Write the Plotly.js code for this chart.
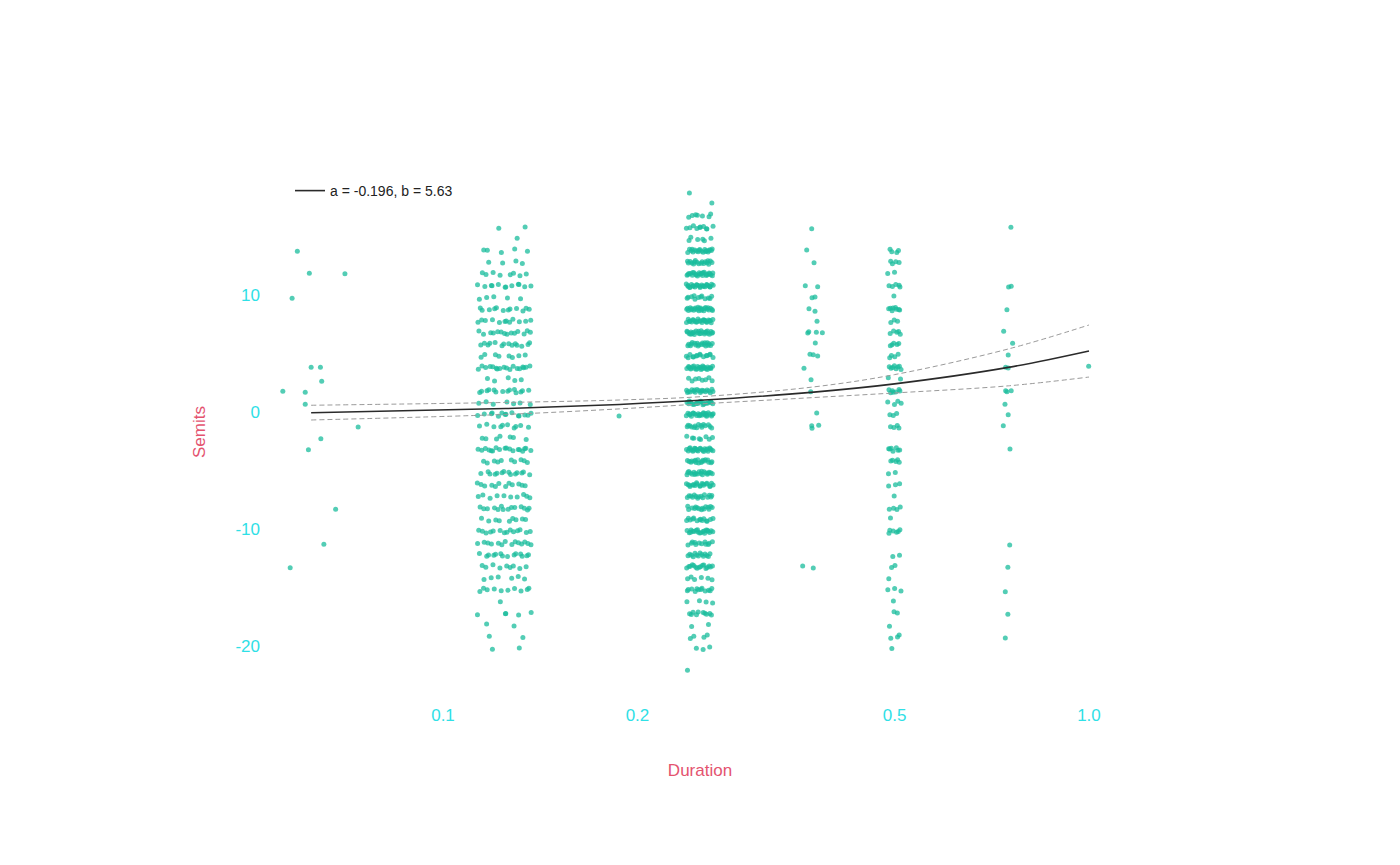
<!DOCTYPE html>
<html>
<head>
<meta charset="utf-8">
<script src="https://cdn.plot.ly/plotly-3.0.1.min.js"></script>
<style>html,body{margin:0;padding:0;background:#fff;}#chart{width:1400px;height:865px;}</style>
</head>
<body>
<div id="chart"></div>
<script>
// ---------- data ----------
// Dense columns: duration -> semitone rows with number of notes in each row
const col125Semits = [16,15,14,13,12,11,10,9,8,7,6,5,4,3,2,1,0,-1,-2,-3,-4,-5,-6,-7,-8,-9,-10,-11,-12,-13,-14,-15,-16,-17,-18,-19,-20];
const col125Counts = [2,1,5,4,8,12,5,12,12,14,14,8,18,5,14,7,14,10,7,18,10,14,12,10,14,9,14,14,14,9,6,10,1,5,2,2,2];

const col25Semits = [19,18,17,16,15,14,13,12,11,10,9,8,7,6,5,4,3,2,1,0,-1,-2,-3,-4,-5,-6,-7,-8,-9,-10,-11,-12,-13,-14,-15,-16,-17,-18,-19,-20,-22];
const col25Counts = [1,1,7,10,6,20,18,25,25,12,25,25,25,20,15,25,8,20,20,25,15,8,25,18,20,20,15,15,14,20,12,14,16,6,12,4,10,2,4,3,1];

const col5Semits = [14,13,12,11,10,9,8,7,6,5,4,3,2,1,0,-1,-3,-4,-5,-6,-7,-8,-9,-10,-12,-13,-14,-15,-16,-17,-18,-19,-20];
const col5Counts = [4,4,2,5,1,8,3,5,5,4,8,2,7,4,3,4,7,5,2,3,1,4,1,6,2,2,1,3,1,2,1,3,1];

// Sparse points read individually (jittered duration, semitones)
const sparseDur = [
  0.0595,0.0621,0.0705,0.0584,0.0625,0.0646,0.0649,0.0565,0.0612,0.0612,0.0739,0.0647,0.0619,0.0520,0.0682,0.0654,0.0580,
  0.1873,
  0.3722,0.3656,0.3753,0.3638,0.3802,0.3726,0.3766,0.3686,0.3766,0.3793,0.3670,0.3683,0.3784,0.3866,0.3770,0.3699,0.3743,0.3802,0.3621,0.3713,0.3709,0.3789,0.3722,0.3726,0.3816,0.3604,0.3743,
  0.7571,0.7509,0.7579,0.7464,0.7378,0.7617,0.7498,0.7430,0.7498,0.7430,0.7464,0.7579,0.7413,0.7498,0.7368,0.7546,0.7538,0.7489,0.7421,0.7489,0.7421,
  0.9989
];
const sparseSemits = [
  13.95,12.07,12.03,9.93,4.03,4.03,2.84,1.98,1.90,0.87,-1.07,-2.07,-3.01,-6.05,-8.10,-11.09,-13.09,
  -0.13,
  15.88,14.06,12.97,11.01,10.92,9.98,10.04,9.04,8.82,7.97,6.97,7.08,7.03,6.99,6.11,5.15,5.11,5.00,3.95,2.97,1.95,0.13,-0.96,-1.18,-0.92,-12.95,-13.12,
  16.00,10.90,10.96,8.96,7.11,6.09,5.09,4.03,3.97,2.03,1.95,2.03,0.87,-0.02,-0.96,-2.95,-11.15,-13.06,-15.15,-17.08,-19.10,
  4.12
];

// Fitted model and its confidence band
const fitLabel = 'a = -0.196, b = 5.63';
const fitDur   = [0.0625, 0.125, 0.1875, 0.25, 0.375, 0.5, 0.75, 1.0];
const fitVal   = [0.156, 0.508, 0.860, 1.212, 1.915, 2.619, 4.027, 5.434];
const bandHigh = [0.79, 1.03, 1.24, 1.52, 2.36, 3.41, 5.60, 7.65];
const bandLow  = [-0.47, 0.01, 0.48, 0.90, 1.45, 1.84, 2.45, 3.20];

const xTickVals = [0.1, 0.2, 0.5, 1.0];
const xTickText = ['0.1', '0.2', '0.5', '1.0'];
const yTickVals = [-20, -10, 0, 10];
const yTickText = ['-20', '-10', '0', '10'];

// ---------- jitter (display only, like a jitter geometry; Halton pattern) ----------
const JX = 0.012, JY = 0.16;
function halton(i, base){
  let f = 1, r = 0;
  while (i > 0){ f /= base; r += f * (i % base); i = Math.floor(i / base); }
  return r;
}
function expandColumn(dur, semits, counts, seed){
  const xs = [], ys = [];
  semits.forEach((s, r) => {
    const start = seed + r * 23;
    for (let k = 0; k < counts[r]; k++){
      const u = halton(start + k + 1, 2);
      const v = halton(start + k + 1, 3);
      xs.push(dur + (2*u - 1) * JX);
      ys.push(s + (2*v - 1) * JY);
    }
  });
  return {xs, ys};
}
const c1 = expandColumn(0.125, col125Semits, col125Counts, 5);
const c2 = expandColumn(0.25, col25Semits, col25Counts, 311);
const c3 = expandColumn(0.5, col5Semits, col5Counts, 977);

const ptX = [].concat(sparseDur, c1.xs, c2.xs, c3.xs);
const ptY = [].concat(sparseSemits, c1.ys, c2.ys, c3.ys);

const tickColor = '#2fe0e6';
const titleColor = '#e4536f';
const FONT = '"Liberation Sans", Arial, Helvetica, sans-serif';

const traces = [
  {
    type: 'scatter', mode: 'markers', x: ptX, y: ptY, showlegend: false,
    cliponaxis: false, hoverinfo: 'x+y',
    marker: {color: '#1abc9c', opacity: 0.75, size: 5, line: {width: 0}}
  },
  {
    type: 'scatter', mode: 'lines', x: fitDur, y: bandHigh, showlegend: false,
    line: {color: '#9a9a9a', width: 1, dash: '5px,3px', shape: 'spline', smoothing: 1}
  },
  {
    type: 'scatter', mode: 'lines', x: fitDur, y: bandLow, showlegend: false,
    line: {color: '#9a9a9a', width: 1, dash: '5px,3px', shape: 'spline', smoothing: 1}
  },
  {
    type: 'scatter', mode: 'lines', x: fitDur, y: fitVal, name: fitLabel,
    line: {color: '#2a2a2a', width: 1.6, shape: 'spline', smoothing: 1}
  }
];

const L = 266, R = 266, T = 161, B = 162;
const plotW = 1400 - L - R, plotH = 865 - T - B;

const layout = {
  width: 1400, height: 865,
  margin: {l: L, r: R, t: T, b: B, pad: 0},
  paper_bgcolor: '#ffffff', plot_bgcolor: '#ffffff',
  font: {family: FONT, size: 17, color: tickColor},
  showlegend: true,
  legend: {
    x: (290 - L) / plotW, y: (865 - B - 191) / plotH, xanchor: 'left', yanchor: 'middle',
    bgcolor: 'rgba(0,0,0,0)', borderwidth: 0,
    font: {family: FONT, size: 14, color: '#222222'}
  },
  xaxis: {
    type: 'log', range: [-1.274, 0.0697], autorange: false,
    tickvals: xTickVals, ticktext: xTickText,
    showgrid: false, zeroline: false, showline: false, ticks: '',
    tickfont: {family: FONT, size: 17, color: tickColor},
    title: {text: 'Duration', font: {family: FONT, size: 17, color: titleColor}, standoff: 40}
  },
  yaxis: {
    range: [-24.658, 21.667], autorange: false,
    tickvals: yTickVals, ticktext: yTickText,
    showgrid: false, zeroline: false, showline: false, ticks: '',
    ticklabelstandoff: 5, ticklabelshift: -2,
    tickfont: {family: FONT, size: 17, color: tickColor},
    title: {text: 'Semits', font: {family: FONT, size: 17, color: titleColor}, standoff: 25}
  }
};

Plotly.newPlot('chart', traces, layout, {displayModeBar: false, responsive: false});
</script>
</body>
</html>
